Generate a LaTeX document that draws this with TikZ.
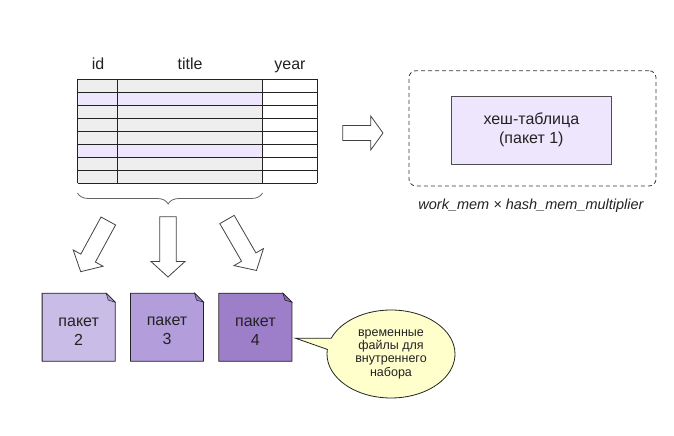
\documentclass[tikz,border=0pt]{standalone}
\usepackage{fontspec}
\setmainfont{Liberation Sans}
\usetikzlibrary{decorations.pathreplacing,shapes.callouts,calc}

\definecolor{ink}{HTML}{222222}
\definecolor{rowgray}{HTML}{EEEEEE}
\definecolor{rowlilac}{HTML}{EDE6FC}
\definecolor{hashfill}{HTML}{EEE6FD}
\definecolor{pktA}{HTML}{C9BCE6}
\definecolor{pktB}{HTML}{B39EDB}
\definecolor{pktC}{HTML}{9D7EC9}
\definecolor{foldA}{HTML}{A89BC6}
\definecolor{foldB}{HTML}{9685BC}
\definecolor{foldC}{HTML}{8468AE}
\definecolor{notefill}{HTML}{FFFFCC}

% block arrow from a tail coordinate to a tip coordinate
% #3 body half width, #4 head half width, #5 head length
\newcommand\fatarrow[5]{%
  \coordinate (fa-base) at ($(#2)!#5bp!(#1)$);
  \draw[blockarrow]
    ($(#1)!#3bp!90:(#2)$) -- ($(fa-base)!#3bp!-90:(#1)$)
    -- ($(fa-base)!#4bp!-90:(#1)$) -- (#2)
    -- ($(fa-base)!#4bp!90:(#1)$) -- ($(fa-base)!#3bp!90:(#1)$)
    -- ($(#1)!#3bp!-90:(#2)$) -- cycle;
}

% file sheet with a folded top-right corner around a named node
\newcommand\sheet[3]{%
  \draw[sheetline, fill=#2] (#1.south west) -- (#1.north west)
    -- ($(#1.north east)+(-9,0)$) -- ($(#1.north east)+(0,9)$)
    -- (#1.south east) -- cycle;
  \draw[sheetline, fill=#3, line width=0.5bp] ($(#1.north east)+(-9,0)$)
    -- ($(#1.north east)+(-7,7)$) -- ($(#1.north east)+(0,9)$) -- cycle;
}

\begin{document}
\begin{tikzpicture}[x=1bp, y=-1bp,
  every node/.style={text=ink, font=\fontsize{16bp}{19bp}\selectfont},
  gridline/.style={draw=ink, line width=0.8bp},
  blockarrow/.style={draw=ink!85, fill=white, line width=0.8bp, line join=miter},
  sheetline/.style={draw=ink, line width=0.8bp},
  pkt/.style={minimum width=72.7bp, minimum height=67.7bp, inner sep=0pt, align=center},
  head/.style={anchor=base},
]
\useasboundingbox (0,0) rectangle (674,436);

% ---- table of rows
\coordinate (tnw) at (77.5,79);
\coordinate (tse) at (317,183);
\fill[rowgray] (77.5,79) rectangle (262.5,183);
\fill[rowlilac] (77.5,92) rectangle (262.5,105);
\fill[rowlilac] (77.5,144) rectangle (262.5,157);
\foreach \i in {0,...,8}
  \draw[gridline] (77.5,79+13*\i) -- (317,79+13*\i);
\foreach \x in {77.5,117.5,262.5,317}
  \draw[gridline] (\x,79) -- (\x,183);

\node[head] (hid) at (98,70) {id};
\node[head] (htitle) at (190,70) {title};
\node[head] (hyear) at (290,70) {year};

% brace under the build columns
\coordinate (brl) at (77.5,193);
\coordinate (brr) at (262.5,193);
\draw[draw=ink!70, line width=0.8bp,
      decorate, decoration={brace, mirror, amplitude=11bp, aspect=0.49}]
  (brl) -- (brr);

% ---- hash table in memory
\node[draw=ink!90, dashed, dash pattern=on 4bp off 3bp, rounded corners=7bp,
      line width=0.8bp, minimum width=247bp, minimum height=115.3bp]
  (mem) at (532.5,128.35) {};
\node[draw=ink!80, fill=hashfill, line width=0.8bp, align=center,
      minimum width=160.7bp, minimum height=68bp]
  (hash) at (531.35,130) {хеш-таблица\\(пакет 1)};
\node[font=\itshape\fontsize{14.5bp}{17bp}\selectfont] (limit)
  at (531,205.5) {work\_mem × hash\_mem\_multiplier};

\coordinate (ta) at (342.7,133);
\coordinate (tb) at (383,133);
\fatarrow{ta}{tb}{7.5}{17}{12.3}

% ---- splitting into batches
\coordinate (s1) at (108.3,221);
\coordinate (e1) at (80.7,271.7);
\coordinate (s2) at (168,216.7);
\coordinate (e2) at (168,277);
\coordinate (s3) at (227,219.5);
\coordinate (e3) at (256.5,270.5);
\fatarrow{s1}{e1}{8.3}{17}{15.5}
\fatarrow{s2}{e2}{8.3}{17}{15.5}
\fatarrow{s3}{e3}{8.3}{17}{15.5}

\node[pkt] (p2) at (78.65,327.2) {};
\node[pkt] (p3) at (167,327.2) {};
\node[pkt] (p4) at (255.35,327.2) {};
\sheet{p2}{pktA}{foldA}
\sheet{p3}{pktB}{foldB}
\sheet{p4}{pktC}{foldC}
\node[align=center] at ($(p2)+(0,4)$) {пакет\\2};
\node[align=center] at ($(p3)+(0,4)$) {пакет\\3};
\node[align=center] at ($(p4)+(0,4)$) {пакет\\4};

% ---- note about temporary files
\coordinate (tip) at ($(p4.east)+(3.5,11)$);
\node[ellipse callout, callout absolute pointer=(tip),
      draw=ink, fill=notefill, line width=0.8bp,
      minimum width=128bp, minimum height=88bp, inner sep=0pt,
      align=center, font=\fontsize{12.5bp}{13.3bp}\selectfont]
  (note) at (391,354) {временные\\файлы для\\внутреннего\\набора};
\end{tikzpicture}
\end{document}
